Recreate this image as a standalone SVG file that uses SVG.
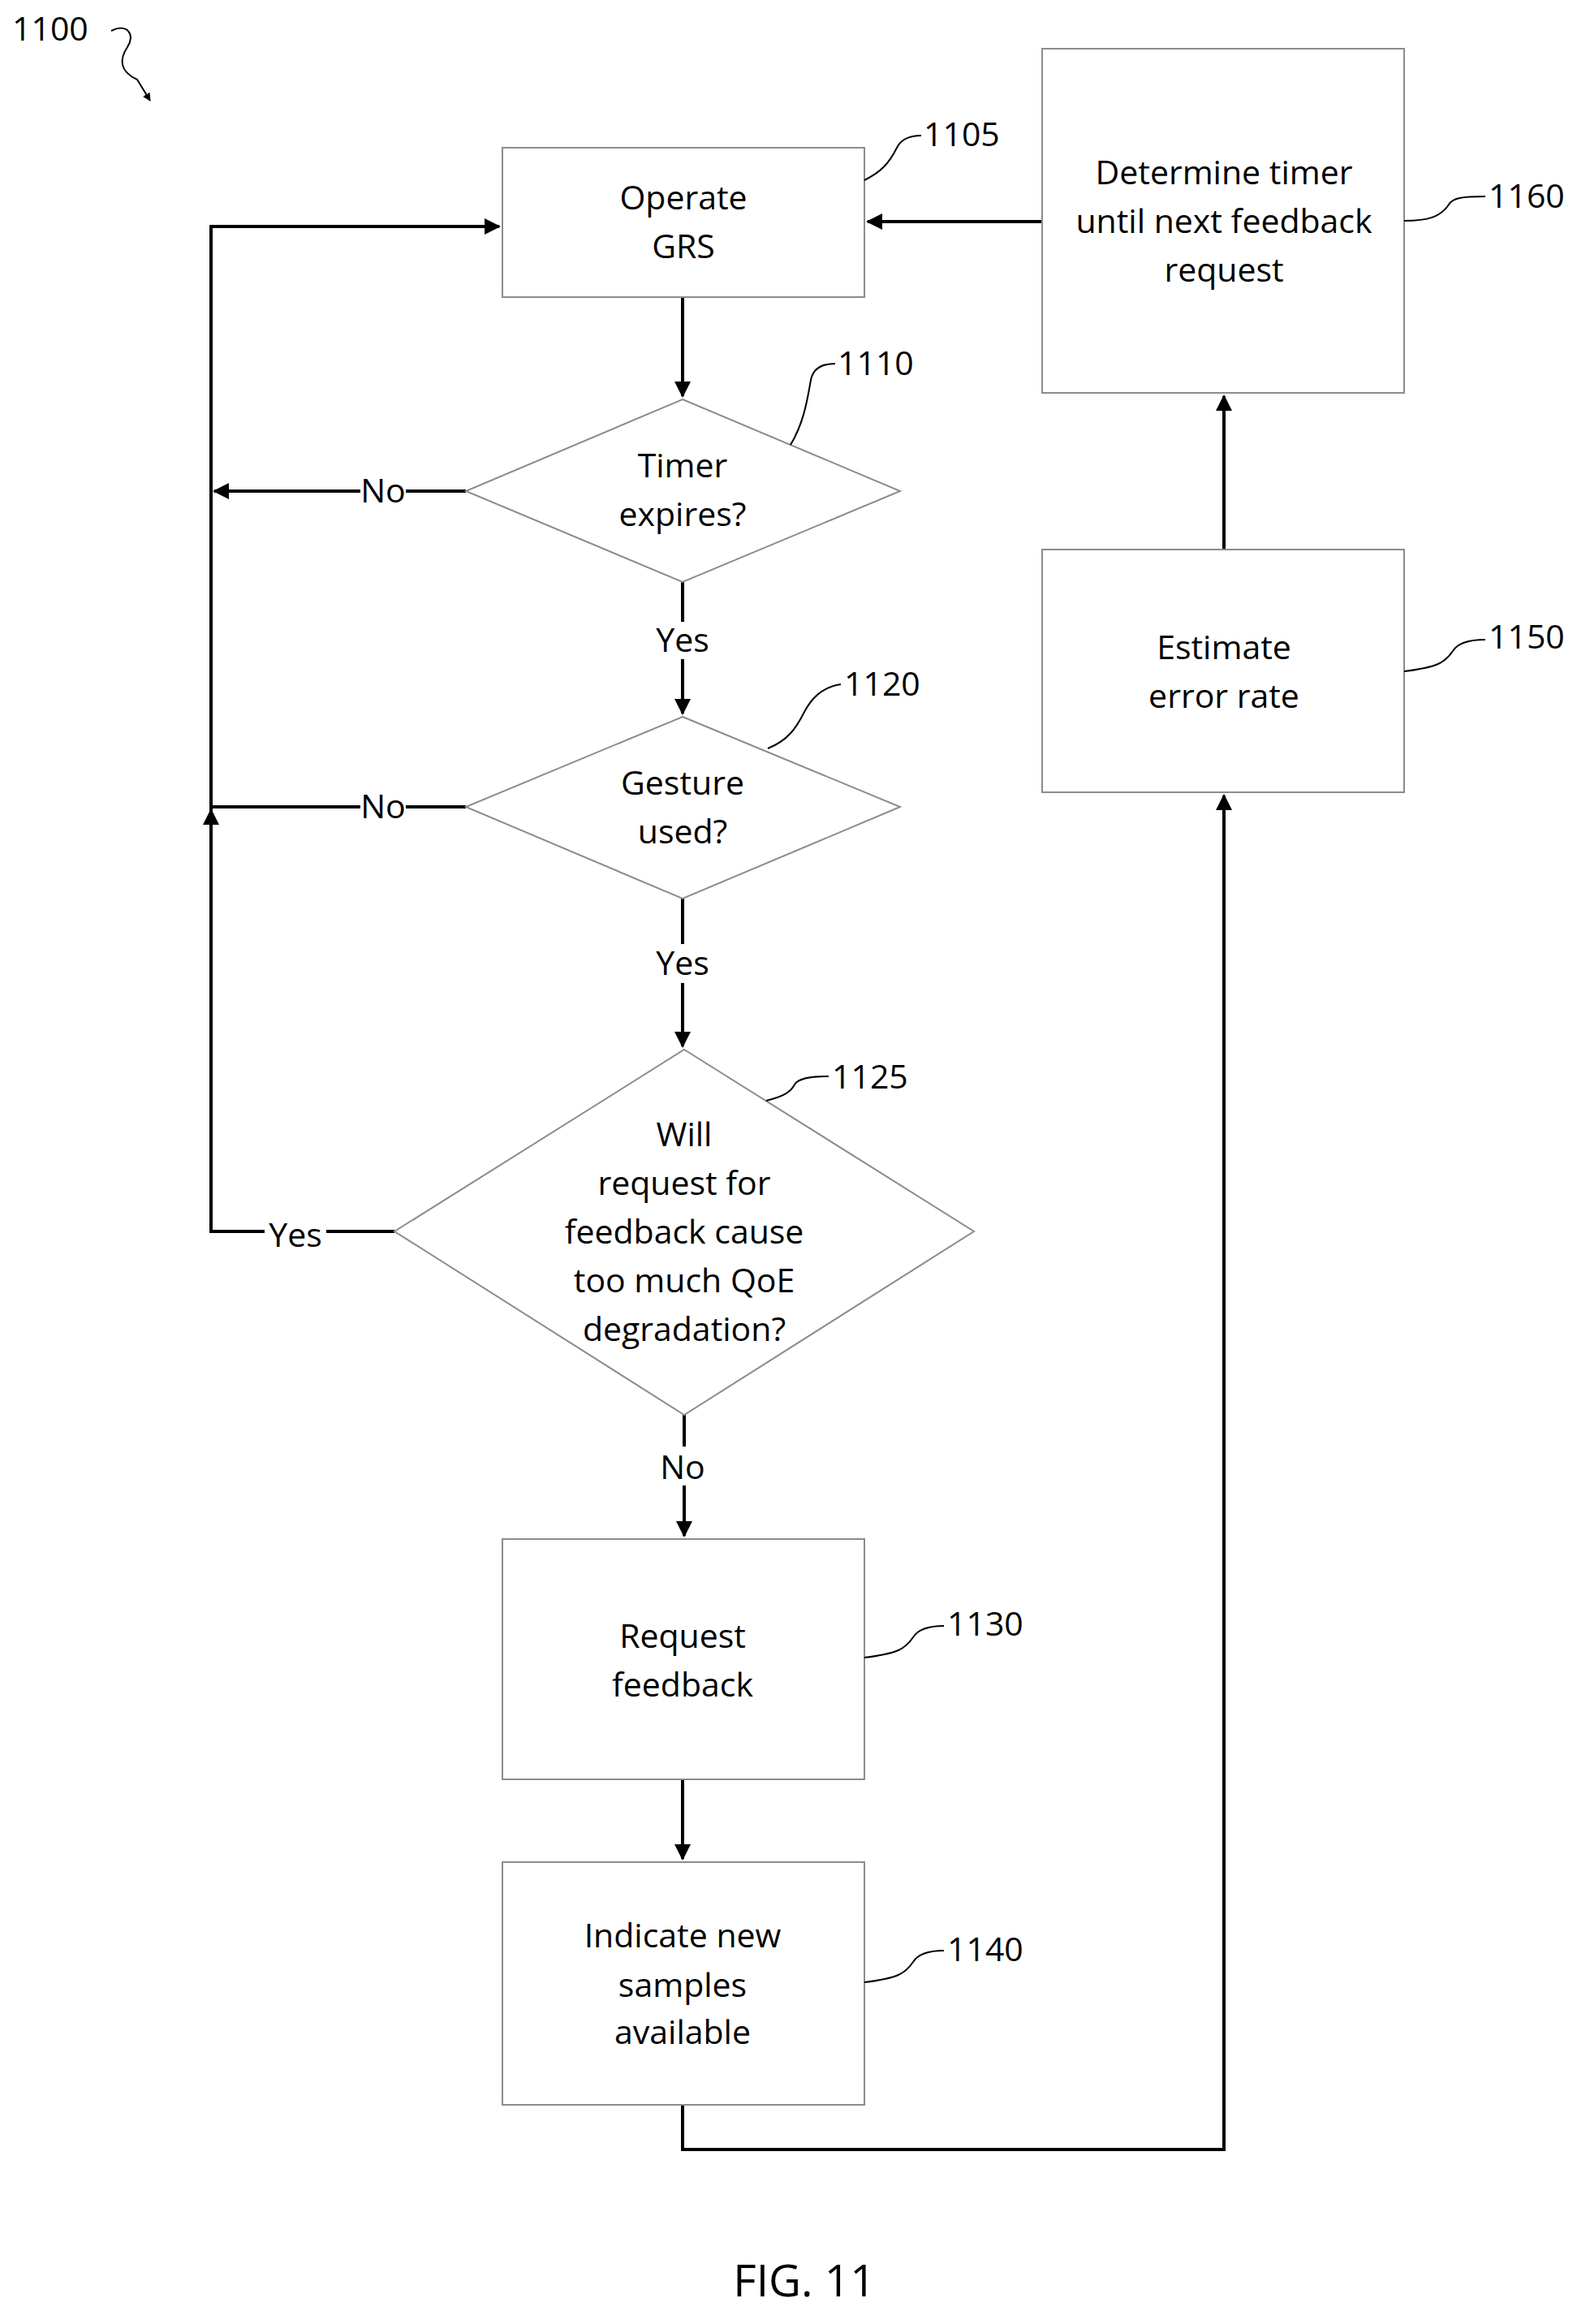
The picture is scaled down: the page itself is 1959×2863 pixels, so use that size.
<svg xmlns="http://www.w3.org/2000/svg" width="1959" height="2863" viewBox="0 0 1959 2863">
<style>
.b{fill:#fff;stroke:#8c8c8c;stroke-width:2}
.t{font-family:"Open Sans","Liberation Sans",sans-serif;font-size:41px;fill:#000;text-anchor:middle}
.l{font-family:"Open Sans","Liberation Sans",sans-serif;font-size:41px;fill:#000}
.c{fill:none;stroke:#000;stroke-width:4}
.ld{fill:none;stroke:#000;stroke-width:2}
</style>
<defs><marker id="a" viewBox="0 0 10 10" refX="9" refY="5" markerWidth="5" markerHeight="5" orient="auto" markerUnits="strokeWidth"><path d="M0,0L10,5L0,10z" fill="#000"/></marker></defs>
<rect width="1959" height="2863" fill="#fff"/>
<g id="title"><text class="l" x="15" y="50">1100</text><path class="ld" d="M137,38c20,-10 30,5 20,20s-10,30 12,40l16,26" marker-end="url(#a)"/></g>
<g id="connectors">
<path class="c" d="M841,366V488" marker-end="url(#a)"/>
<path class="c" d="M841,717V766M841,812V879" marker-end="url(#a)"/>
<path class="c" d="M841,1107V1163M841,1211V1289" marker-end="url(#a)"/>
<path class="c" d="M843,1743V1782M843,1830V1892" marker-end="url(#a)"/>
<path class="c" d="M841,2192V2290" marker-end="url(#a)"/>
<path class="c" d="M841,2593V2648H1508V980" marker-end="url(#a)"/>
<path class="c" d="M1508,677V488" marker-end="url(#a)"/>
<path class="c" d="M1284,273H1069" marker-end="url(#a)"/>
<path class="c" d="M574,605H500M444,605H264" marker-end="url(#a)"/>
<path class="c" d="M574,994H500M444,994H260"/>
<path class="c" d="M486,1517H402M326,1517H260V279H615" marker-end="url(#a)"/>
<path class="c" d="M260,1517V998" marker-end="url(#a)"/>
<text class="t" x="472" y="619">No</text>
<text class="t" x="472" y="1008">No</text>
<text class="t" x="364" y="1536">Yes</text>
<text class="t" x="841" y="803">Yes</text>
<text class="t" x="841" y="1201">Yes</text>
<text class="t" x="841" y="1822">No</text>
</g>
<g id="n1105"><rect class="b" x="619" y="182" width="446" height="184"/><text class="t" x="842" y="258">Operate</text><text class="t" x="842" y="318">GRS</text><path class="ld" d="M1065,222c20,-10 30,-20 40,-40c5,-10 15,-15 30,-15"/><text class="l" x="1138" y="180">1105</text></g>
<g id="n1160"><rect class="b" x="1284" y="60" width="446" height="424"/><text class="t" x="1508" y="227">Determine timer</text><text class="t" x="1508" y="287">until next feedback</text><text class="t" x="1508" y="347">request</text><path class="ld" d="M1730,272c30,0 45,-5 55,-20c5,-8 15,-10 45,-10"/><text class="l" x="1834" y="256">1160</text></g>
<g id="n1110"><polygon class="b" points="841,492 1109,605 841,717 574,605"/><text class="t" x="841" y="588">Timer</text><text class="t" x="841" y="648">expires?</text><path class="ld" d="M974,548c15,-25 20,-50 25,-80c3,-15 15,-20 30,-20"/><text class="l" x="1032" y="462">1110</text></g>
<g id="n1120"><polygon class="b" points="841,883 1109,994 841,1107 574,994"/><text class="t" x="841" y="979">Gesture</text><text class="t" x="841" y="1039">used?</text><path class="ld" d="M946,922c25,-10 35,-25 45,-45c8,-15 20,-30 45,-34"/><text class="l" x="1040" y="857">1120</text></g>
<g id="n1125"><polygon class="b" points="843,1293 1200,1517 843,1743 486,1517"/><text class="t" x="843" y="1412">Will</text><text class="t" x="843" y="1472">request for</text><text class="t" x="843" y="1532">feedback cause</text><text class="t" x="843" y="1592">too much QoE</text><text class="t" x="843" y="1652">degradation?</text><path class="ld" d="M944,1356c20,-5 30,-10 35,-20c5,-8 20,-10 42,-10"/><text class="l" x="1025" y="1341">1125</text></g>
<g id="n1130"><rect class="b" x="619" y="1896" width="446" height="296"/><text class="t" x="841" y="2030">Request</text><text class="t" x="841" y="2090">feedback</text><path class="ld" d="M1065,2042c40,-5 50,-10 60,-25c5,-8 15,-14 38,-14"/><text class="l" x="1167" y="2015">1130</text></g>
<g id="n1140"><rect class="b" x="619" y="2294" width="446" height="299"/><text class="t" x="841" y="2399">Indicate new</text><text class="t" x="841" y="2460">samples</text><text class="t" x="841" y="2518">available</text><path class="ld" d="M1065,2442c40,-5 50,-10 60,-25c5,-8 15,-14 38,-14"/><text class="l" x="1167" y="2416">1140</text></g>
<g id="n1150"><rect class="b" x="1284" y="677" width="446" height="299"/><text class="t" x="1508" y="812">Estimate</text><text class="t" x="1508" y="872">error rate</text><path class="ld" d="M1730,827c40,-5 50,-10 60,-25c5,-8 15,-14 40,-14"/><text class="l" x="1834" y="799">1150</text></g>
<g id="fig"><text class="t" x="991" y="2829" style="font-size:55px">FIG. 11</text></g>
</svg>
